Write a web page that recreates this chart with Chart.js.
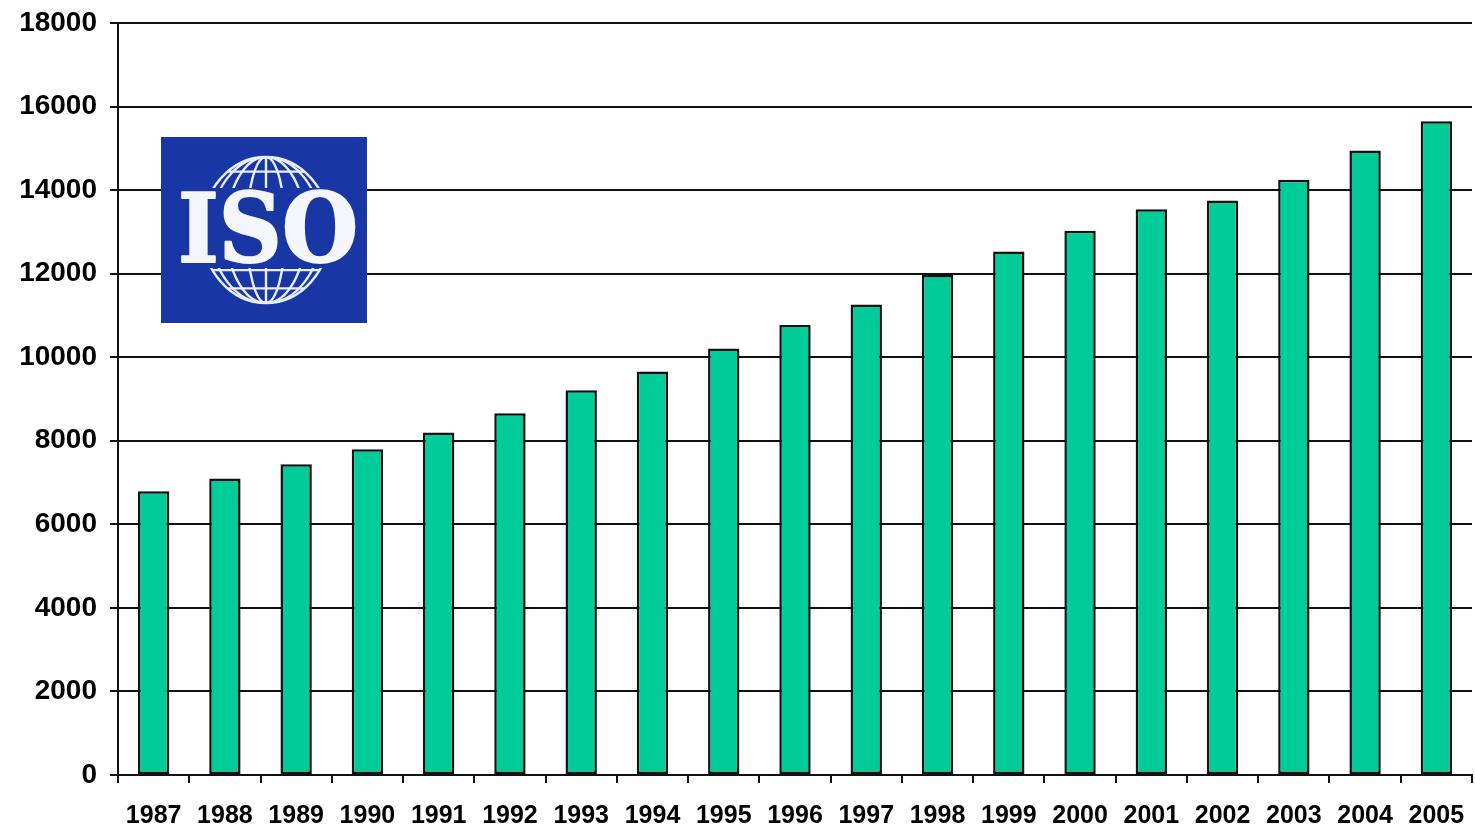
<!DOCTYPE html>
<html>
<head>
<meta charset="utf-8">
<script src="https://cdn.jsdelivr.net/npm/chart.js@4/dist/chart.umd.min.js"></script>
<style>
  html, body { margin: 0; padding: 0; background: #fff; }
  #wrap { width: 1475px; height: 833px; position: relative; }
</style>
</head>
<body>
<div id="wrap"><canvas id="isoChart"></canvas></div>
<script>
// Data
const YEARS  = ['1987','1988','1989','1990','1991','1992','1993','1994','1995','1996',
                '1997','1998','1999','2000','2001','2002','2003','2004','2005'];
const COUNTS = [6790, 7100, 7440, 7800, 8200, 8660, 9210, 9660, 10210, 10770,
                11260, 11970, 12530, 13030, 13540, 13750, 14250, 14950, 15650];
const Y_MIN  = 0;
const Y_MAX  = 18000;
const Y_STEP = 2000;

const BAR_GREEN = '#00CC99';
const LINE      = '#111';
const ISO_BLUE  = '#1937A4';

// ── ISO logo drawn on the canvas ────────────────────────────────
const isoLogo = {
  id: 'isoLogo',
  afterDraw(chart) {
    const ctx = chart.ctx;
    const x0 = 161, y0 = 137, w = 206, h = 186;
    ctx.save();
    ctx.fillStyle = ISO_BLUE;
    ctx.fillRect(x0, y0, w, h);

    // globe
    const cx = 266, cy = 230, rx = 64, ry = 73;
    ctx.strokeStyle = '#e8eefc';
    ctx.lineWidth = 2.4;
    ctx.beginPath();
    ctx.ellipse(cx, cy, rx, ry, 0, 0, Math.PI * 2);
    ctx.stroke();
    ctx.save();
    ctx.beginPath();
    ctx.ellipse(cx, cy, rx, ry, 0, 0, Math.PI * 2);
    ctx.clip();
    [0.3, 0.62, 0.86].forEach(f => {
      ctx.beginPath();
      ctx.ellipse(cx, cy, rx * f, ry, 0, 0, Math.PI * 2);
      ctx.stroke();
    });
    ctx.beginPath();
    ctx.moveTo(cx, cy - ry); ctx.lineTo(cx, cy + ry);
    ctx.stroke();
    [-0.8, -0.55, 0.55, 0.8].forEach(f => {
      ctx.beginPath();
      ctx.moveTo(cx - rx, cy + ry * f); ctx.lineTo(cx + rx, cy + ry * f);
      ctx.stroke();
    });
    ctx.restore();

    // band behind the lettering hides the globe
    ctx.fillStyle = ISO_BLUE;
    ctx.fillRect(174, 188, 188, 80);

    // ISO lettering
    ctx.font = 'bold 96px "DejaVu Serif"';
    ctx.textBaseline = 'alphabetic';
    ctx.textAlign = 'left';
    const tw = ctx.measureText('ISO').width;
    ctx.translate(178, 262);
    ctx.scale(180 / tw, 1);
    ctx.lineJoin = 'round';
    ctx.fillStyle = '#f4f6fb';
    ctx.strokeStyle = '#f4f6fb';
    ctx.lineWidth = 2;
    ctx.fillText('ISO', 0, 0);
    ctx.strokeText('ISO', 0, 0);
    ctx.restore();
  }
};

new Chart(document.getElementById('isoChart'), {
  type: 'bar',
  data: {
    labels: YEARS,
    datasets: [{
      data: COUNTS,
      backgroundColor: BAR_GREEN,
      borderColor: LINE,
      borderWidth: 2.5,
      borderSkipped: false,
      barPercentage: 0.44,
      categoryPercentage: 1
    }]
  },
  options: {
    responsive: true,
    maintainAspectRatio: false,
    animation: false,
    layout: { padding: { left: 0, right: 3, top: 23, bottom: 0 } },
    plugins: { legend: { display: false }, tooltip: { enabled: false } },
    scales: {
      x: {
        grid: { display: true, drawOnChartArea: false, drawTicks: true, tickLength: 8,
                color: LINE, lineWidth: 2, offset: true },
        border: { display: true, color: LINE, width: 2 },
        ticks: { color: '#000', padding: 18, maxRotation: 0, autoSkip: false,
                 font: { family: 'Liberation Sans, Arial', size: 25, weight: 'bold' } },
        afterFit: s => { s.height = 58; s.paddingLeft = 0; s.paddingRight = 0; }
      },
      y: {
        min: Y_MIN, max: Y_MAX,
        grid: { color: LINE, lineWidth: 2, tickLength: 8 },
        border: { display: true, color: LINE, width: 2 },
        ticks: { stepSize: Y_STEP, color: '#000', padding: 13,
                 callback: v => String(v),
                 font: { family: 'Liberation Sans, Arial', size: 28, weight: 'bold' } },
        afterFit: s => { s.width = 118; s.paddingTop = 0; s.paddingBottom = 0; }
      }
    }
  },
  plugins: [isoLogo]
});
</script>
</body>
</html>
